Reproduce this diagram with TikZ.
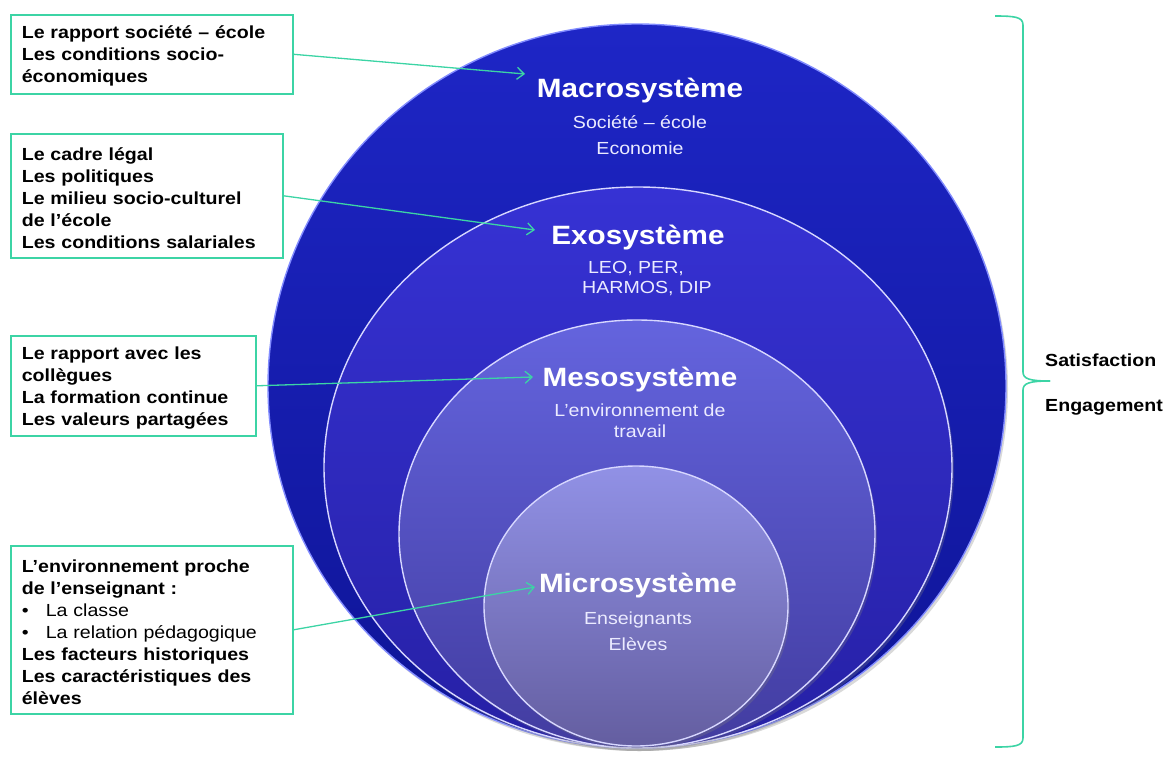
\documentclass[tikz,border=0pt]{standalone}
\usepackage{fontspec}
\setmainfont[FakeStretch=1.12]{Liberation Sans}
\usetikzlibrary{arrows.meta,shadows}
\definecolor{mint}{RGB}{60,212,165}
\definecolor{macT}{RGB}{30,38,198}
\definecolor{macB}{RGB}{14,20,150}
\definecolor{exoT}{RGB}{54,50,212}
\definecolor{exoB}{RGB}{38,32,165}
\definecolor{mesT}{RGB}{100,100,222}
\definecolor{mesB}{RGB}{66,60,160}
\definecolor{micT}{RGB}{145,145,230}
\definecolor{micB}{RGB}{100,94,160}
\definecolor{rim}{RGB}{215,215,255}
\newcommand\bxfont{\fontsize{17.5}{22}\selectfont\bfseries}
\newcommand\ttlfont{\fontsize{26.5}{30}\selectfont\bfseries}
\newcommand\sbfont{\fontsize{17.5}{22}\selectfont}
\newcommand\fstrut{\rule{0pt}{17pt}}
\begin{document}
\begin{tikzpicture}[x=1pt,y=-1pt,
  box/.style={draw=mint, line width=1.6pt, anchor=north west, inner xsep=11pt, inner ysep=0pt, align=left, font=\bxfont, text=black},
  conn/.style={draw=mint, line width=1.3pt, -{Straight Barb[length=7pt,width=12pt]}},
  ring/.style={line width=1.4pt, drop shadow={opacity=0.3, shadow xshift=2pt, shadow yshift=-3pt}},
  ttl/.style={text=white, font=\ttlfont, anchor=base},
  sb/.style={text=white!92!blue, font=\sbfont, anchor=base},
  side/.style={text=black, font=\bxfont, anchor=base west, inner sep=0pt}]
\useasboundingbox (0,0) rectangle (1165,758);
% circles
\path[ring, draw={rgb,255:red,130;green,140;blue,255}, top color=macT, bottom color=macB] (637,386) ellipse [x radius=369, y radius=362];
\path[ring, draw=rim, top color=exoT, bottom color=exoB] (638,467.5) ellipse [x radius=314, y radius=280.5];
\path[ring, draw=rim, top color=mesT, bottom color=mesB] (637,534) ellipse [x radius=238, y radius=214];
\path[ring, draw=rim, top color=micT, bottom color=micB] (636,606) ellipse [x radius=152, y radius=140];
% circle labels
\node[ttl] (tmac) at (640,97) {Macrosystème};
\node[sb] (smac1) at (640,128) {Société – école};
\node[sb] (smac2) at (640,154) {Economie};
\node[ttl] (texo) at (638,244) {Exosystème};
\node[sb] (sexo1) at (636,273) {LEO, PER,};
\node[sb] (sexo2) at (647,293) {HARMOS, DIP};
\node[ttl] (tmes) at (640,386) {Mesosystème};
\node[sb] (smes1) at (640,416) {L’environnement de};
\node[sb] (smes2) at (640,437) {travail};
\node[ttl] (tmic) at (638,592) {Microsystème};
\node[sb] (smic1) at (638,624) {Enseignants};
\node[sb] (smic2) at (638,650) {Elèves};
% boxes
\node[box, text width=260pt, minimum height=79pt] (b1) at (10,14)
  {\fstrut Le rapport société – école\\Les conditions socio-\\économiques};
\node[box, text width=250pt, minimum height=124pt] (b2) at (10,133)
  {\fstrut Le cadre légal\\Les politiques\\Le milieu socio-culturel\\de l’école\\Les conditions salariales};
\node[box, text width=223pt, minimum height=100pt] (b3) at (10,335)
  {\fstrut Le rapport avec les\\collègues\\La formation continue\\Les valeurs partagées};
\node[box, text width=260pt, minimum height=168pt] (b4) at (10,545)
  {\fstrut L’environnement proche\\de l’enseignant :\\{\mdseries\makebox[24pt][l]{\textbullet}La classe}\\{\mdseries\makebox[24pt][l]{\textbullet}La relation pédagogique}\\Les facteurs historiques\\Les caractéristiques des\\élèves};
% arrow targets
\coordinate (t1) at (525,74);
\coordinate (t2) at (535,230);
\coordinate (t3) at (533,377);
\coordinate (t4) at (535,587);
\draw[conn] (b1.east) -- (t1);
\draw[conn] (b2.east) -- (t2);
\draw[conn] (b3.east) -- (t3);
\draw[conn] (b4.east) -- (t4);
% brace
\coordinate (bt) at (995,16);
\coordinate (bm) at (1050,381);
\coordinate (bb) at (995,747);
\draw[mint, line width=1.6pt] (bt) .. controls (1015,16) and (1023,17) .. (1023,25) -- (1023,372) .. controls (1023,379) and (1030,381) .. (bm);
\draw[mint, line width=1.6pt] (bm) .. controls (1030,381) and (1023,383) .. (1023,390) -- (1023,738) .. controls (1023,746) and (1015,747) .. (bb);
\node[side] (sat) at (1045,366) {Satisfaction};
\node[side] (eng) at (1045,411) {Engagement};
\end{tikzpicture}
\end{document}
